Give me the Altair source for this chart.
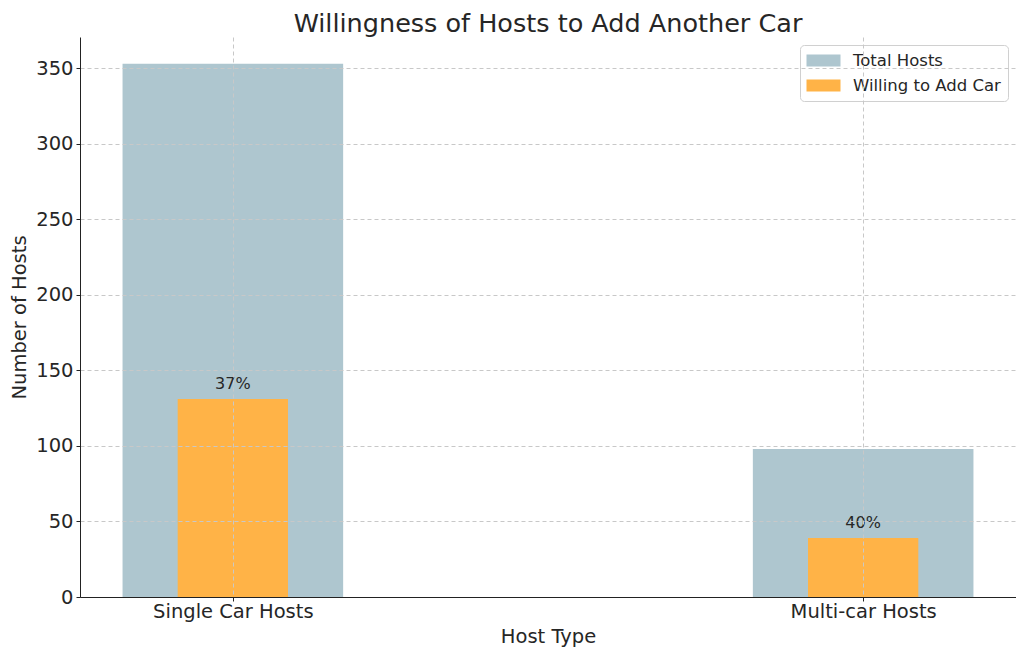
import altair as alt
import pandas as pd

categories = ["Single Car Hosts", "Multi-car Hosts"]
total_hosts = [353, 98]
willing_hosts = [131, 39]
series_names = ["Total Hosts", "Willing to Add Car"]
colors = ["#AEC6CF", "#FFB347"]

rows = []
for i, cat in enumerate(categories):
    rows.append({"cat": cat, "pos": i, "series": series_names[0], "xs": i - 0.175, "xe": i + 0.175,
                 "value": total_hosts[i], "order": 0})
for i, cat in enumerate(categories):
    rows.append({"cat": cat, "pos": i, "series": series_names[1], "xs": i - 0.0875, "xe": i + 0.0875,
                 "value": willing_hosts[i], "order": 1,
                 "label": f"{round(willing_hosts[i] / total_hosts[i] * 100)}%"})
df = pd.DataFrame(rows)

FONT = "DejaVu Sans"
TXT = "#262626"

label_expr = f"datum.value == 0 ? '{categories[0]}' : '{categories[1]}'"

xscale = alt.Scale(domain=[-0.2425, 1.2425], nice=False, zero=False)
yscale = alt.Scale(domain=[0, 370.65], nice=False)

common_axis = dict(grid=True, gridDash=[4, 3], gridColor="#c8c8c8", domainColor="#222222",
                   tickColor="#222222", tickSize=4, labelFontSize=19.5, titleFontSize=19.5,
                   labelColor=TXT, titleColor=TXT, labelFont=FONT, titleFont=FONT,
                   titleFontWeight="normal", zindex=1)

bars = alt.Chart(df).mark_rect().encode(
    x=alt.X("xs:Q", scale=xscale, title="Host Type",
            axis=alt.Axis(values=[0, 1], labelExpr=label_expr, labelPadding=1, titlePadding=7,
                          **common_axis)),
    x2="xe:Q",
    y=alt.Y("value:Q", scale=yscale, title="Number of Hosts",
            axis=alt.Axis(values=[0, 50, 100, 150, 200, 250, 300, 350], labelPadding=3,
                          titlePadding=6, **common_axis)),
    y2=alt.datum(0),
    color=alt.Color("series:N", scale=alt.Scale(domain=series_names, range=colors),
                    legend=alt.Legend(title=None, orient="none", legendX=720, legendY=8,
                                      symbolType="M-2,-0.7H2V0.7H-2Z", symbolSize=289,
                                      symbolStrokeWidth=0, labelFontSize=16.5, labelFont=FONT,
                                      labelColor=TXT, rowPadding=8, padding=7,
                                      fillColor="rgba(255,255,255,0.85)", strokeColor="#d0d0d0",
                                      cornerRadius=4, symbolOffset=8, labelOffset=21)),
    order=alt.Order("order:Q"),
)

labels = alt.Chart(df[df["series"] == series_names[1]]).mark_text(
    baseline="bottom", dy=-7, fontSize=16, font=FONT, color=TXT
).encode(
    x=alt.X("pos:Q", scale=xscale),
    y=alt.Y("value:Q", scale=yscale),
    text="label:N",
)

chart = alt.layer(bars, labels).properties(
    width=936, height=560,
    title=alt.TitleParams("Willingness of Hosts to Add Another Car", fontSize=25.5, font=FONT,
                          color=TXT, fontWeight="normal", anchor="middle", offset=0),
    autosize=alt.AutoSizeParams(type="none"),
    padding={"left": 72, "top": 29, "right": 0, "bottom": 58},
).configure_view(stroke=None)

chart.save("out.html", embed_options={"renderer": "svg", "actions": False})
